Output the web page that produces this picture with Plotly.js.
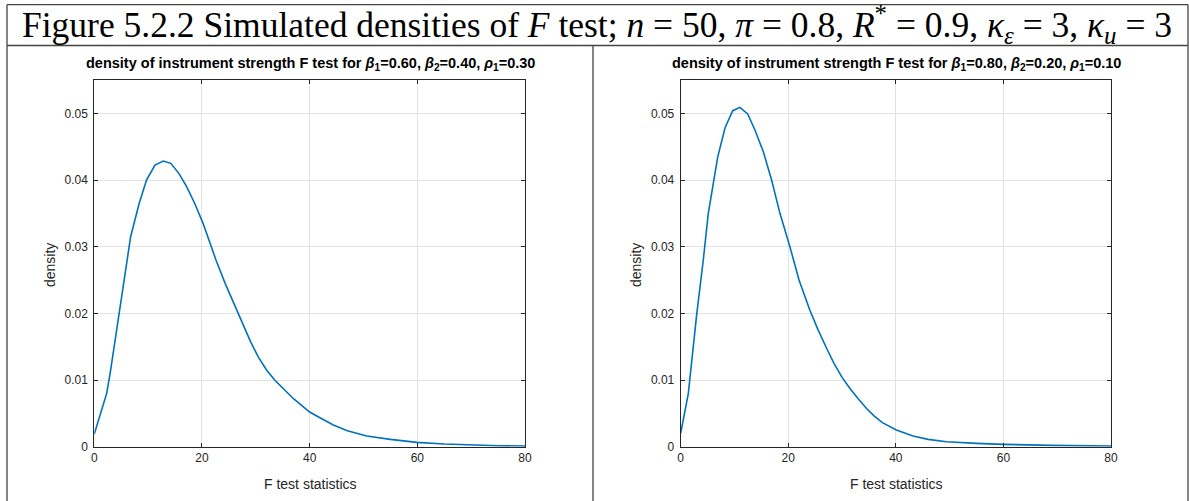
<!DOCTYPE html>
<html>
<head>
<meta charset="utf-8">
<script src="https://cdn.plot.ly/plotly-3.0.1.min.js"></script>
<style>html,body{margin:0;padding:0;background:#fff;}#chart{width:1189px;height:501px;}</style>
</head>
<body>
<div id="chart"></div>
<script>
// Left panel: beta1=0.60, beta2=0.40, rho1=0.30
const fLeft = [0, 1, 2.3, 3, 4, 4.65, 6.1, 6.75, 8.3, 9.7, 11.27, 12.8, 14.2, 15.7, 17.15, 18.7, 20.2, 22.6, 24.3, 27.1, 29, 30.5, 32, 33.5, 35, 37, 38.5, 40, 42, 44.4, 47, 50.6, 55, 59.9, 65, 69.2, 75, 80];
const densLeft = [0.0019, 0.0045, 0.008, 0.0113, 0.0165, 0.020, 0.028, 0.0315, 0.0364, 0.040, 0.04225, 0.04285, 0.0425, 0.041, 0.039, 0.0364, 0.0335, 0.028, 0.0245, 0.0193, 0.0158, 0.0134, 0.0115, 0.0100, 0.0088, 0.0072, 0.0062, 0.0052, 0.0043, 0.00325, 0.0024, 0.0016, 0.0011, 0.00065, 0.0004, 0.00025, 0.00015, 0.0001];
// Right panel: beta1=0.80, beta2=0.20, rho1=0.10
const fRight = [0, 1.42, 2.97, 3.77, 4.2, 5.13, 6.87, 8.23, 9.67, 11.0, 12.45, 13.8, 15.36, 16.9, 18.45, 20.3, 22.0, 24.0, 25.5, 27.1, 28.5, 30, 31.5, 33, 34.6, 36, 37.5, 40.1, 43.2, 46, 49.4, 55, 60, 69, 80];
const densRight = [0.002, 0.008, 0.0198, 0.025, 0.028, 0.035, 0.0434, 0.0478, 0.0504, 0.0509, 0.0499, 0.0475, 0.04425, 0.040, 0.035, 0.030, 0.025, 0.0205, 0.0176, 0.0148, 0.0125, 0.0104, 0.0087, 0.0072, 0.0057, 0.0046, 0.0036, 0.0025, 0.0016, 0.0011, 0.00075, 0.0005, 0.00035, 0.0002, 0.0001];
const xTicks = [0, 20, 40, 60, 80];
const yTicks = [0, 0.01, 0.02, 0.03, 0.04, 0.05];
const yTickText = ['0', '0.01', '0.02', '0.03', '0.04', '0.05'];
const subTitles = [
  'density of instrument strength F test for <i>β</i><sub>1</sub>=0.60, <i>β</i><sub>2</sub>=0.40, <i>ρ</i><sub>1</sub>=0.30',
  'density of instrument strength F test for <i>β</i><sub>1</sub>=0.80, <i>β</i><sub>2</sub>=0.20, <i>ρ</i><sub>1</sub>=0.10'
];
const mainTitle = 'Figure 5.2.2 Simulated densities of <i>F</i> test; <i>n</i> = 50, <i>π</i> = 0.8, <i>R</i><sup>*</sup> = 0.9, <i>κ</i><sub><i>ε</i></sub> = 3, <i>κ</i><sub><i>u</i></sub> = 3';

const W = 1189, H = 501;
const px = v => v / W;
const py = v => 1 - v / H;

const lineStyle = {color: '#0072BD', width: 1.6};
const traces = [
  {x: fLeft, y: densLeft, type: 'scatter', mode: 'lines', line: lineStyle, xaxis: 'x', yaxis: 'y', hoverinfo: 'skip'},
  {x: fRight, y: densRight, type: 'scatter', mode: 'lines', line: lineStyle, xaxis: 'x2', yaxis: 'y2', hoverinfo: 'skip'}
];

const tickFont = {family: 'Liberation Sans, Arial, sans-serif', size: 12, color: '#262626'};
function xAx(dom, anchor) {
  return {domain: dom, anchor: anchor, range: [0, 80], tickvals: xTicks, ticks: 'inside', ticklen: 4,
    tickcolor: '#262626', showline: true, linecolor: '#262626', linewidth: 1, mirror: 'ticks',
    showgrid: true, gridcolor: '#e3e3e3', gridwidth: 1, zeroline: false, tickfont: tickFont, fixedrange: true};
}
function yAx(anchor) {
  return {domain: [py(446.7), py(80)], anchor: anchor, range: [0, 0.055], tickvals: yTicks, ticktext: yTickText,
    ticks: 'inside', ticklen: 4, tickcolor: '#262626', showline: true, linecolor: '#262626', linewidth: 1, mirror: 'ticks',
    showgrid: true, gridcolor: '#e3e3e3', gridwidth: 1, zeroline: false, tickfont: tickFont, fixedrange: true,
    ticklabelstandoff: 3};
}

const lblFont = {family: 'Liberation Sans, Arial, sans-serif', size: 14, color: '#262626'};
const subFont = {family: 'Liberation Sans, Arial, sans-serif', size: 14.5, color: '#000'};
const annotations = [
  {text: mainTitle, xref: 'paper', yref: 'paper', x: px(597), y: py(25), xanchor: 'center', yanchor: 'middle', showarrow: false,
    font: {family: 'Liberation Serif, DejaVu Serif, serif', size: 35.5, color: '#000'}},
  {text: '<b>' + subTitles[0] + '</b>', xref: 'paper', yref: 'paper', x: px(310), y: py(64), xanchor: 'center', yanchor: 'middle', showarrow: false, font: subFont},
  {text: '<b>' + subTitles[1] + '</b>', xref: 'paper', yref: 'paper', x: px(896), y: py(64), xanchor: 'center', yanchor: 'middle', showarrow: false, font: subFont},
  {text: 'F test statistics', xref: 'paper', yref: 'paper', x: px(310), y: py(484), xanchor: 'center', yanchor: 'middle', showarrow: false, font: lblFont},
  {text: 'F test statistics', xref: 'paper', yref: 'paper', x: px(896), y: py(484), xanchor: 'center', yanchor: 'middle', showarrow: false, font: lblFont},
  {text: 'density', xref: 'paper', yref: 'paper', x: px(50), y: py(265), xanchor: 'center', yanchor: 'middle', textangle: -90, showarrow: false, font: lblFont},
  {text: 'density', xref: 'paper', yref: 'paper', x: px(636), y: py(265), xanchor: 'center', yanchor: 'middle', textangle: -90, showarrow: false, font: lblFont}
];

const borderLine = {color: '#444', width: 1.3};
function ln(x0, y0, x1, y1) {
  return {type: 'line', xref: 'paper', yref: 'paper', x0: px(x0), y0: py(y0), x1: px(x1), y1: py(y1), line: borderLine, layer: 'above'};
}
const shapes = [
  ln(7, 4.7, 1188, 4.7),
  ln(7, 45.5, 1188, 45.5),
  ln(7, 4.7, 7, 501),
  ln(593, 45.5, 593, 501),
  ln(1188, 4.7, 1188, 501)
];

const layout = {
  width: W, height: H, margin: {l: 0, r: 0, t: 0, b: 0},
  paper_bgcolor: '#fff', plot_bgcolor: '#fff', showlegend: false,
  xaxis: xAx([px(94.3), px(525)], 'y'),
  yaxis: yAx('x'),
  xaxis2: xAx([px(680.7), px(1111)], 'y2'),
  yaxis2: yAx('x2'),
  annotations: annotations,
  shapes: shapes
};

Plotly.newPlot('chart', traces, layout, {staticPlot: true, displayModeBar: false});
</script>
</body>
</html>
